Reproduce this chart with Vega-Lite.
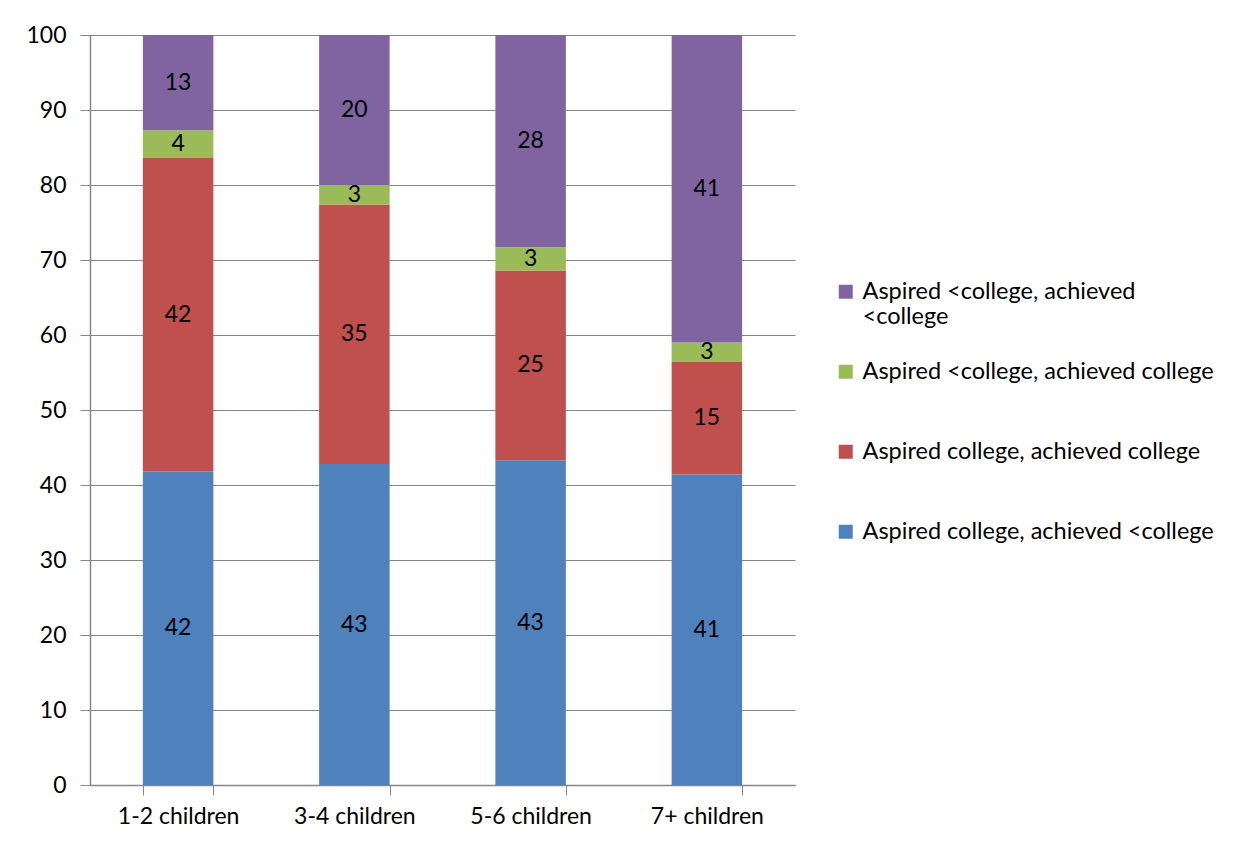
{
  "$schema": "https://vega.github.io/schema/vega-lite/v6.json",
  "width": 705,
  "height": 750,
  "autosize": {"type": "none"},
  "padding": {"left": 90, "top": 35, "right": 458, "bottom": 60},
  "background": "white",
  "config": {
    "view": {"stroke": null},
    "font": "Lato",
    "axis": {"labelFont": "Lato", "labelFontSize": 23, "labelColor": "#000000", "domainColor": "#868686", "tickColor": "#868686", "gridColor": "#868686", "gridOpacity": 1, "domainWidth": 1.5, "title": null},
    "legend": {"labelFont": "Lato", "labelFontSize": 23.5, "labelColor": "#000000"}
  },
  "data": {
    "values": [
      {"group": "1-2 children", "series": "Aspired college, achieved <college", "order": 1, "value": 41.8},
      {"group": "1-2 children", "series": "Aspired college, achieved college", "order": 2, "value": 41.8},
      {"group": "1-2 children", "series": "Aspired <college, achieved college", "order": 3, "value": 3.7},
      {"group": "1-2 children", "series": "Aspired <college, achieved <college", "order": 4, "value": 12.7},
      {"group": "3-4 children", "series": "Aspired college, achieved <college", "order": 1, "value": 42.8},
      {"group": "3-4 children", "series": "Aspired college, achieved college", "order": 2, "value": 34.6},
      {"group": "3-4 children", "series": "Aspired <college, achieved college", "order": 3, "value": 2.6},
      {"group": "3-4 children", "series": "Aspired <college, achieved <college", "order": 4, "value": 20.0},
      {"group": "5-6 children", "series": "Aspired college, achieved <college", "order": 1, "value": 43.3},
      {"group": "5-6 children", "series": "Aspired college, achieved college", "order": 2, "value": 25.3},
      {"group": "5-6 children", "series": "Aspired <college, achieved college", "order": 3, "value": 3.1},
      {"group": "5-6 children", "series": "Aspired <college, achieved <college", "order": 4, "value": 28.3},
      {"group": "7+ children", "series": "Aspired college, achieved <college", "order": 1, "value": 41.4},
      {"group": "7+ children", "series": "Aspired college, achieved college", "order": 2, "value": 15.0},
      {"group": "7+ children", "series": "Aspired <college, achieved college", "order": 3, "value": 2.6},
      {"group": "7+ children", "series": "Aspired <college, achieved <college", "order": 4, "value": 41.0}
    ]
  },
  "transform": [
    {"stack": "value", "groupby": ["group"], "sort": [{"field": "order", "order": "ascending"}], "as": ["v0", "v1"]},
    {"calculate": "(datum.v0 + datum.v1) / 2", "as": "mid"}
  ],
  "encoding": {
    "x": {
      "field": "group", "type": "nominal", "sort": null,
      "scale": {"paddingInner": 0.6, "paddingOuter": 0.3},
      "axis": {"labelAngle": 0, "tickBand": "extent", "tickSize": 10, "labelPadding": 10, "grid": false}
    }
  },
  "layer": [
    {
      "mark": {"type": "bar"},
      "encoding": {
        "y": {"field": "v0", "type": "quantitative", "scale": {"domain": [0, 100]},
              "axis": {"values": [0, 10, 20, 30, 40, 50, 60, 70, 80, 90, 100], "grid": true, "tickSize": 10, "labelPadding": 14}},
        "y2": {"field": "v1"},
        "color": {
          "field": "series", "type": "nominal",
          "scale": {
            "domain": ["Aspired <college, achieved <college", "Aspired <college, achieved college", "Aspired college, achieved college", "Aspired college, achieved <college"],
            "range": ["#8064A2", "#9BBB59", "#C0504D", "#4F81BD"]
          },
          "legend": {
            "title": null, "orient": "none", "legendX": 744, "legendY": 245,
            "symbolType": "square", "symbolSize": 196, "symbolStrokeWidth": 0, "labelOffset": 5,
            "labelLimit": 600, "rowPadding": 30, "gridAlign": "all",
            "labelExpr": "datum.label == 'Aspired <college, achieved <college' ? ['Aspired <college, achieved', '<college'] : datum.label"
          }
        }
      }
    },
    {
      "mark": {"type": "text", "fontSize": 23, "color": "#000000", "font": "Lato"},
      "encoding": {
        "y": {"field": "mid", "type": "quantitative"},
        "text": {"field": "value", "type": "quantitative", "format": ".0f"}
      }
    }
  ]
}
